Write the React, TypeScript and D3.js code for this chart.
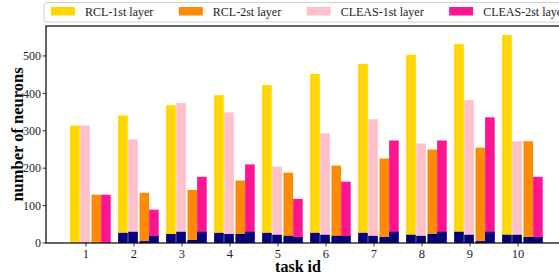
import React, { useEffect, useRef } from 'react';
import * as d3 from 'd3';

const tasks = [1, 2, 3, 4, 5, 6, 7, 8, 9, 10];
const seriesNames = ['RCL-1st layer', 'RCL-2st layer', 'CLEAS-1st layer', 'CLEAS-2st layer'];
const seriesColors = ['#FFD700', '#FF8C00', '#FFC0CB', '#FF1493'];
const rcl1 = [314, 341, 368, 395, 422, 452, 479, 503, 532, 556];
const rcl2 = [129, 134, 142, 167, 188, 207, 226, 250, 255, 272];
const cleas1 = [314, 277, 374, 349, 204, 293, 331, 266, 382, 272];
const cleas2 = [129, 89, 177, 210, 118, 164, 274, 274, 336, 177];
// dark part at the bottom of each bar
const rcl1Base = [0, 27, 24, 27, 27, 27, 27, 22, 30, 22];
const rcl2Base = [0, 5, 8, 24, 19, 19, 16, 24, 5, 16];
const cleas1Base = [0, 30, 30, 24, 22, 22, 19, 19, 22, 22];
const cleas2Base = [0, 19, 30, 30, 16, 19, 30, 30, 30, 16];
const yTicks = [0, 100, 200, 300, 400, 500];

const W = 559;
const H = 275;
const FONT = '"Liberation Serif", "Times New Roman", serif';

const App: React.FC = () => {
  const svgRef = useRef<SVGSVGElement>(null);

  useEffect(() => {
    if (!svgRef.current) return;
    const svg = d3.select(svgRef.current);
    svg.selectAll('*').remove();

    const left = 46, right = 566, top = 26, bottom = 243;
    const x = d3.scaleLinear().domain([0.167, 11]).range([left, right]);
    const y = d3.scaleLinear().domain([0, 580]).range([bottom, top]);

    const barW = 0.2;
    // offset of each series' bar centre from the tick
    const offsets = [-0.23, 0.215, -0.02, 0.415];
    const values = [rcl1, rcl2, cleas1, cleas2];
    const bases = [rcl1Base, rcl2Base, cleas1Base, cleas2Base];
    const drawOrder = [0, 2, 1, 3];

    const g = svg.append('g');
    drawOrder.forEach(s => {
      g.selectAll(`.bar${s}`)
        .data(tasks)
        .enter().append('rect')
        .attr('x', d => x(d + offsets[s] - barW / 2))
        .attr('width', x(barW) - x(0))
        .attr('y', (_, i) => y(values[s][i]))
        .attr('height', (_, i) => y(0) - y(values[s][i]))
        .attr('fill', seriesColors[s]);
      g.selectAll(`.base${s}`)
        .data(tasks)
        .enter().append('rect')
        .attr('x', d => x(d + offsets[s] - barW / 2))
        .attr('width', x(barW) - x(0))
        .attr('y', (_, i) => y(bases[s][i]))
        .attr('height', (_, i) => y(0) - y(bases[s][i]))
        .attr('fill', '#000080');
    });

    // frame
    svg.append('rect')
      .attr('x', left).attr('y', top)
      .attr('width', right - left).attr('height', bottom - top)
      .attr('fill', 'none').attr('stroke', '#000').attr('stroke-width', 1.2);

    // y axis
    const ya = svg.append('g');
    yTicks.forEach(t => {
      ya.append('line')
        .attr('x1', left - 3.5).attr('x2', left)
        .attr('y1', y(t)).attr('y2', y(t))
        .attr('stroke', '#000').attr('stroke-width', 0.8);
      ya.append('text')
        .attr('x', left - 5).attr('y', y(t)).attr('dy', '0.35em')
        .attr('text-anchor', 'end')
        .style('font-family', FONT).style('font-size', '12px').style('fill', '#222')
        .text(t);
    });

    // x axis
    const xa = svg.append('g');
    tasks.forEach(t => {
      xa.append('line')
        .attr('x1', x(t)).attr('x2', x(t))
        .attr('y1', bottom).attr('y2', bottom + 3.5)
        .attr('stroke', '#000').attr('stroke-width', 0.8);
      xa.append('text')
        .attr('x', x(t)).attr('y', bottom + 10.5)
        .attr('dy', '0.35em')
        .attr('text-anchor', 'middle')
        .style('font-family', FONT).style('font-size', '12.5px').style('fill', '#222')
        .text(t);
    });

    svg.append('text')
      .attr('x', (left + 550) / 2).attr('y', 272)
      .attr('text-anchor', 'middle')
      .style('font-family', FONT).style('font-size', '16px').style('font-weight', 'bold')
      .text('task id');

    svg.append('text')
      .attr('transform', `translate(23,${(top + bottom) / 2}) rotate(-90)`)
      .attr('text-anchor', 'middle')
      .style('font-family', FONT).style('font-size', '16.5px').style('font-weight', 'bold')
      .text('number of neurons');

    // legend
    const leg = svg.append('g');
    leg.append('rect')
      .attr('x', left - 2).attr('y', 2.5)
      .attr('width', 530).attr('height', 19.5)
      .attr('rx', 3)
      .attr('fill', '#fff').attr('stroke', '#d0d0d0').attr('stroke-width', 1);
    let lx = 51;
    seriesNames.forEach((name, i) => {
      leg.append('rect')
        .attr('x', lx).attr('y', 7)
        .attr('width', 24).attr('height', 8.5)
        .attr('fill', seriesColors[i]);
      const txt = leg.append('text')
        .attr('x', lx + 34).attr('y', 12)
        .attr('dy', '0.35em')
        .style('font-family', FONT).style('font-size', '12px').style('fill', '#222')
        .text(name);
      const tw = (txt.node() as SVGTextElement).getComputedTextLength();
      lx += 34 + tw + 25.5;
    });
  }, []);

  return (
    <svg
      ref={svgRef}
      width={W}
      height={H}
      viewBox={`0 0 ${W} ${H}`}
      style={{ position: 'absolute', left: 0, top: 0, background: '#fff' }}
    />
  );
};

export default App;
